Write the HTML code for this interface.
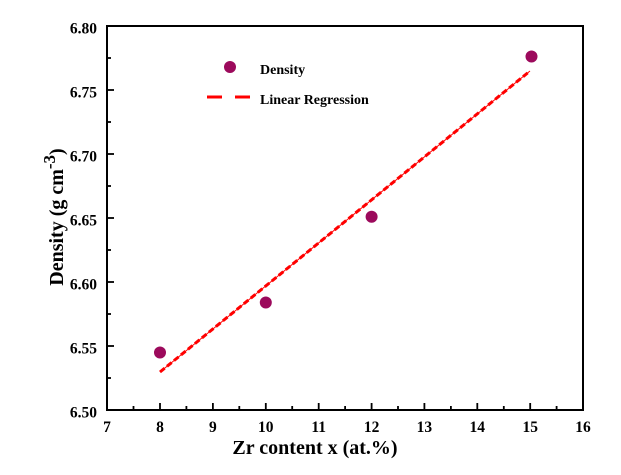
<!DOCTYPE html>
<html><head><meta charset="utf-8"><style>
html,body{margin:0;padding:0;background:#fff;}
svg{display:block;}
text{font-family:"Liberation Serif",serif;font-weight:bold;fill:#000;}
</style></head><body>
<svg width="621" height="475" viewBox="0 0 621 475" xmlns="http://www.w3.org/2000/svg">
<rect width="621" height="475" fill="#fff"/>
<g stroke="#000" stroke-width="1.8">
<line x1="160" y1="410" x2="160" y2="403"/>
<line x1="212.9" y1="410" x2="212.9" y2="403"/>
<line x1="265.8" y1="410" x2="265.8" y2="403"/>
<line x1="318.7" y1="410" x2="318.7" y2="403"/>
<line x1="371.6" y1="410" x2="371.6" y2="403"/>
<line x1="424.4" y1="410" x2="424.4" y2="403"/>
<line x1="477.3" y1="410" x2="477.3" y2="403"/>
<line x1="530.2" y1="410" x2="530.2" y2="403"/>
<line x1="133.5" y1="410" x2="133.5" y2="406"/>
<line x1="186.4" y1="410" x2="186.4" y2="406"/>
<line x1="239.3" y1="410" x2="239.3" y2="406"/>
<line x1="292.2" y1="410" x2="292.2" y2="406"/>
<line x1="345.1" y1="410" x2="345.1" y2="406"/>
<line x1="398" y1="410" x2="398" y2="406"/>
<line x1="450.9" y1="410" x2="450.9" y2="406"/>
<line x1="503.8" y1="410" x2="503.8" y2="406"/>
<line x1="556.6" y1="410" x2="556.6" y2="406"/>
<line x1="107" y1="346" x2="114" y2="346"/>
<line x1="107" y1="282" x2="114" y2="282"/>
<line x1="107" y1="218" x2="114" y2="218"/>
<line x1="107" y1="154" x2="114" y2="154"/>
<line x1="107" y1="90" x2="114" y2="90"/>
<line x1="107" y1="378" x2="111" y2="378"/>
<line x1="107" y1="314" x2="111" y2="314"/>
<line x1="107" y1="250" x2="111" y2="250"/>
<line x1="107" y1="186" x2="111" y2="186"/>
<line x1="107" y1="122" x2="111" y2="122"/>
<line x1="107" y1="58" x2="111" y2="58"/>
</g>
<rect x="107" y="26" width="476" height="384" fill="none" stroke="#000" stroke-width="2"/>
<g font-size="15.5" text-anchor="end">
<text x="97" y="417.5">6.50</text>
<text x="97" y="353.5">6.55</text>
<text x="97" y="289.5">6.60</text>
<text x="97" y="225.5">6.65</text>
<text x="97" y="161.5">6.70</text>
<text x="97" y="97.5">6.75</text>
<text x="97" y="33.5">6.80</text>
</g>
<g font-size="15.5" text-anchor="middle">
<text x="107" y="432">7</text>
<text x="160" y="432">8</text>
<text x="212.9" y="432">9</text>
<text x="265.8" y="432">10</text>
<text x="318.7" y="432">11</text>
<text x="371.6" y="432">12</text>
<text x="424.4" y="432">13</text>
<text x="477.3" y="432">14</text>
<text x="530.2" y="432">15</text>
<text x="583" y="432">16</text>
</g>
<text x="315" y="454" font-size="20" text-anchor="middle">Zr content x (at.%)</text>
<text transform="translate(63,217) rotate(-90)" font-size="20" text-anchor="middle">Density (g cm<tspan dy="-8" font-size="17">-3</tspan><tspan dy="8">)</tspan></text>
<line x1="160" y1="372" x2="530" y2="71" stroke="#f00" stroke-width="1"/>
<line x1="160" y1="372" x2="530" y2="71" stroke="#f00" stroke-width="3" stroke-dasharray="6 3"/>
<g fill="#9c0a5c">
<circle cx="160" cy="352.5" r="6"/>
<circle cx="265.8" cy="302.5" r="6"/>
<circle cx="371.6" cy="216.7" r="6"/>
<circle cx="531.5" cy="56.5" r="6"/>
<circle cx="230" cy="67" r="6"/>
</g>
<text x="260" y="74" font-size="14">Density</text>
<line x1="207" y1="97" x2="222" y2="97" stroke="#f00" stroke-width="3"/>
<line x1="235" y1="97" x2="250" y2="97" stroke="#f00" stroke-width="3"/>
<text x="260" y="104" font-size="14">Linear Regression</text>
</svg>
</body></html>
